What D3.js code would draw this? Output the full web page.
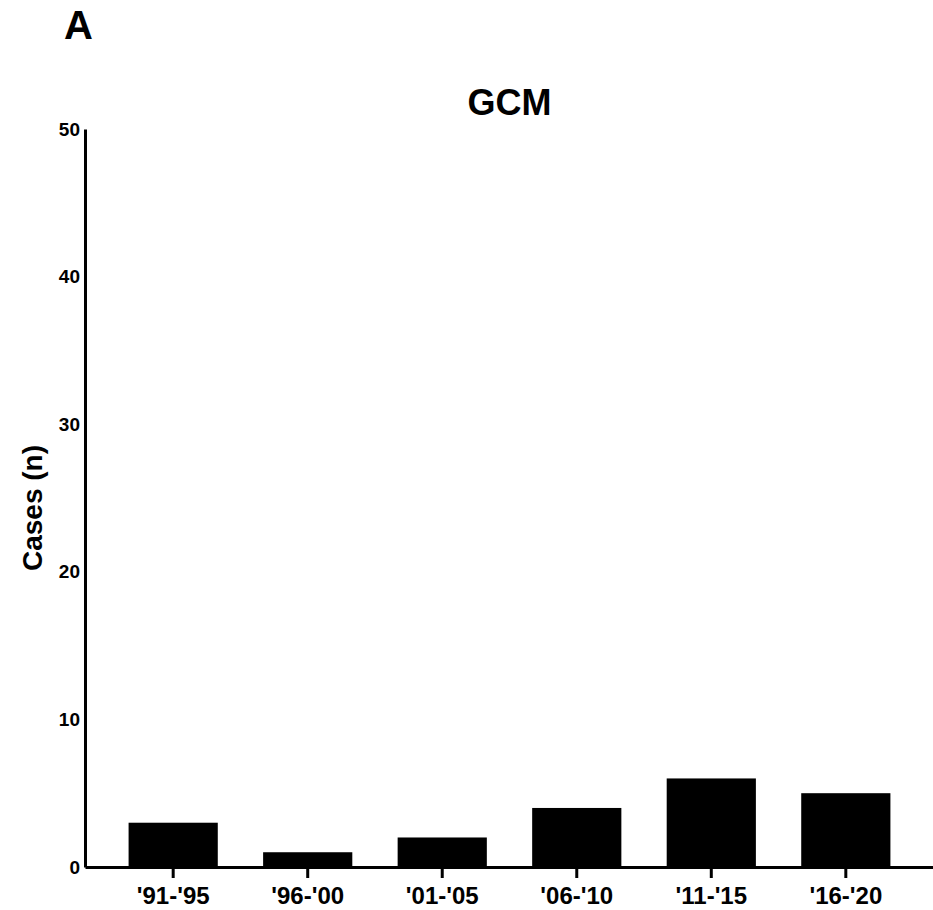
<!DOCTYPE html>
<html>
<head>
<meta charset="utf-8">
<script src="https://cdn.jsdelivr.net/npm/d3@7"></script>
<style>
  html, body { margin: 0; padding: 0; background: #fff; }
  svg { display: block; font-family: "Liberation Sans", Arial, Helvetica, sans-serif; }
</style>
</head>
<body>
<svg id="chart" width="933" height="910"></svg>
<script>
// Data
const periods = ["'91-'95", "'96-'00", "'01-'05", "'06-'10", "'11-'15", "'16-'20"];
const cases = [3, 1, 2, 4, 6, 5];
const yTicks = [0, 10, 20, 30, 40, 50];

const svg = d3.select('#chart');

// Plot area (pixel frame)
const plotLeft = 85, plotRight = 934, plotTop = 129, plotBottom = 867;

const x = d3.scaleBand()
    .domain(periods)
    .range([plotLeft, plotRight])
    .paddingInner(0.337)
    .paddingOuter(0.324);

const y = d3.scaleLinear()
    .domain([0, 50])
    .range([plotBottom, plotTop]);

// Panel letter
svg.append('text')
    .attr('x', 64)
    .attr('y', 39)
    .attr('font-size', '40px')
    .attr('font-weight', 'bold')
    .text('A');

// Title
svg.append('text')
    .attr('x', (plotLeft + plotRight) / 2)
    .attr('y', 115)
    .attr('text-anchor', 'middle')
    .attr('font-size', '36px')
    .attr('font-weight', 'bold')
    .text('GCM');

// Bars
svg.append('g')
    .selectAll('rect')
    .data(periods)
    .enter()
    .append('rect')
    .attr('x', d => x(d))
    .attr('y', (d, i) => y(cases[i]))
    .attr('width', x.bandwidth())
    .attr('height', (d, i) => y(0) - y(cases[i]))
    .attr('fill', '#000');

// X axis
const xAxis = svg.append('g')
    .attr('transform', `translate(0, ${plotBottom})`)
    .call(d3.axisBottom(x).tickSize(11).tickPadding(9).tickSizeOuter(0));
xAxis.select('.domain').attr('stroke', '#000').attr('stroke-width', 3);
xAxis.selectAll('.tick line').attr('stroke', '#000').attr('stroke-width', 3);
xAxis.selectAll('.tick text')
    .attr('font-size', '24px')
    .attr('font-weight', 'bold')
    .attr('font-family', '"Liberation Sans", Arial, sans-serif')
    .attr('fill', '#000');

// Y axis (no tick marks)
const yAxis = svg.append('g')
    .attr('transform', `translate(${plotLeft}, 0)`)
    .call(d3.axisLeft(y).tickValues(yTicks).tickSize(0).tickPadding(5).tickSizeOuter(0));
yAxis.select('.domain').attr('stroke', '#000').attr('stroke-width', 3);
yAxis.selectAll('.tick text')
    .attr('font-size', '19px')
    .attr('font-weight', 'bold')
    .attr('font-family', '"Liberation Sans", Arial, sans-serif')
    .attr('fill', '#000');

// Y axis label
svg.append('text')
    .attr('transform', `translate(42, ${(plotTop + plotBottom) / 2 + 10}) rotate(-90)`)
    .attr('text-anchor', 'middle')
    .attr('font-size', '28px')
    .attr('font-weight', 'bold')
    .text('Cases (n)');
</script>
</body>
</html>
